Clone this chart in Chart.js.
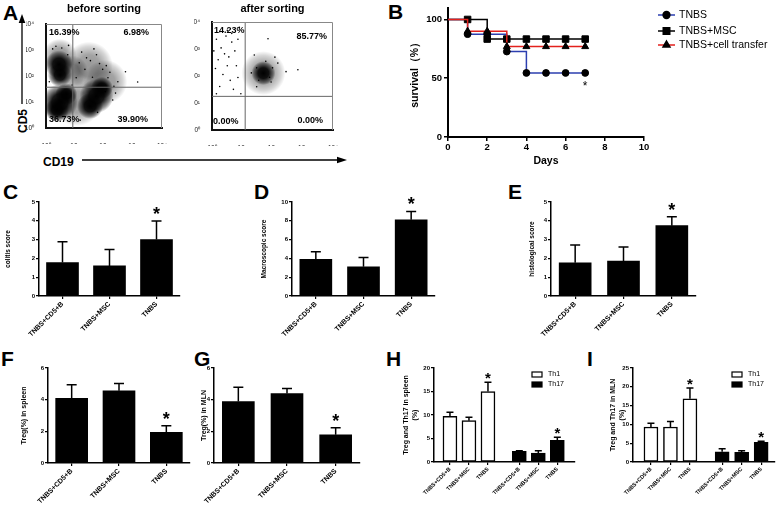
<!DOCTYPE html>
<html>
<head>
<meta charset="utf-8">
<title>TNBS figure</title>
<script src="https://cdn.jsdelivr.net/npm/chart.js@4.4.1/dist/chart.umd.min.js"></script>
<style>
  html, body { margin: 0; padding: 0; background: #fff; }
  body { position: relative; width: 778px; height: 505px; overflow: hidden; font-family: Arial, "Liberation Sans", sans-serif; }
  canvas { position: absolute; }
  .txt { position: absolute; font-weight: bold; line-height: 1; white-space: nowrap; color: #000; }
  .letter { font-size: 21px; }
  svg { position: absolute; left: 0; top: 0; }
</style>
</head>
<body>
<div class="txt letter" style="left:3px;top:2px">A</div>
<div class="txt letter" style="left:388px;top:1px">B</div>
<div class="txt letter" style="left:3px;top:181px">C</div>
<div class="txt letter" style="left:254px;top:181px">D</div>
<div class="txt letter" style="left:508px;top:181px">E</div>
<div class="txt letter" style="left:1px;top:348px">F</div>
<div class="txt letter" style="left:194px;top:348px">G</div>
<div class="txt letter" style="left:386px;top:348px">H</div>
<div class="txt letter" style="left:587px;top:348px">I</div>
<div class="txt" style="left:43px;top:156px;font-size:12px">CD19</div>
<div class="txt" style="left:17px;top:133px;font-size:12px;transform:rotate(-90deg);transform-origin:left top">CD5</div>
<svg width="778" height="505">
  <line x1="22" y1="104" x2="22" y2="22" stroke="#000" stroke-width="1.3"/>
  <polygon points="22,14 18.7,23 25.3,23" fill="#000"/>
  <line x1="82" y1="160" x2="338" y2="160" stroke="#000" stroke-width="1.3"/>
  <polygon points="347,160 337,156.7 337,163.3" fill="#000"/>
</svg>
<script>
// ---------- data ----------
var groups = ['TNBS+CD5+B', 'TNBS+MSC', 'TNBS'];
var sig = [false, false, true];

var colitisMean = [1.78, 1.6, 3.0];
var colitisTop = [2.89, 2.48, 3.99];
var macroMean = [3.9, 3.1, 8.1];
var macroTop = [4.7, 4.1, 9.0];
var histoMean = [1.77, 1.86, 3.74];
var histoTop = [2.71, 2.6, 4.22];
var tregSpleenMean = [4.09, 4.56, 1.93];
var tregSpleenTop = [4.94, 5.02, 2.35];
var tregMlnMean = [3.88, 4.39, 1.78];
var tregMlnTop = [4.79, 4.7, 2.22];

var th1SpleenMean = [9.7, 8.8, 15.0];
var th1SpleenTop = [10.6, 9.5, 16.95];
var th17SpleenMean = [2.27, 1.9, 4.6];
var th17SpleenTop = [2.4, 2.4, 5.25];
var th1MlnMean = [9.3, 9.3, 16.8];
var th1MlnTop = [10.3, 10.8, 19.7];
var th17MlnMean = [2.7, 2.6, 5.2];
var th17MlnTop = [3.5, 3.0, 5.5];

var days = [0, 1, 2, 3, 4, 5, 6, 7];
var survTNBS = [100, 87.5, 87.5, 72.7, 54.5, 54.5, 54.5, 54.5];
var survMSC = [100, 100, 83.3, 83.3, 83.3, 83.3, 83.3, 83.3];
var survCell = [100, 90, 90, 76.9, 76.9, 76.9, 76.9, 76.9];

// flow plots: CD19 (x) vs CD5 (y)
var cytoTicks = [1, 10, 100, 1000, 10000];
var beforeGate = [8.4, 37];
var afterGate = [12.5, 17.6];
var beforePct = ['16.39%', '6.98%', '36.73%', '39.90%'];
var afterPct = ['14.23%', '85.77%', '0.00%', '0.00%'];
var beforeClusters = [
  {x: 2.8, y: 280, r: 14}, {x: 3.0, y: 110, r: 12}, {x: 3.0, y: 10, r: 18},
  {x: 2.4, y: 5, r: 12}, {x: 5, y: 20, r: 11}, {x: 55, y: 17, r: 17},
  {x: 33, y: 7, r: 13}, {x: 85, y: 35, r: 11}
];
var beforeHaze = [
  {x: 3, y: 600, r: 17}, {x: 30, y: 250, r: 24}, {x: 110, y: 60, r: 22},
  {x: 12, y: 10, r: 24}, {x: 8, y: 150, r: 16}
];
var beforeDots = [
  [550, 145], [1450, 59], [17, 830], [34, 390], [55, 660], [90, 180], [22, 180], [11, 86],
  [137, 86], [220, 40], [5.6, 660], [1.7, 1100], [3.5, 1200], [25, 500], [70, 300], [45, 1100],
  [120, 250], [14, 320], [160, 140], [40, 90], [6, 1500], [2.2, 1400], [300, 60], [110, 25],
  [200, 12], [8, 45], [1.3, 60], [60, 4], [250, 22], [15, 2]
];
var afterClusters = [{x: 50, y: 128, r: 12}];
var afterHaze = [{x: 50, y: 128, r: 22}];
var afterDots = [
  [1.4, 2300], [2.0, 1100], [2.9, 3000], [4.5, 1800], [2.6, 660], [1.6, 400], [3.6, 510],
  [5.7, 850], [7.2, 2300], [1.3, 190], [2.3, 114], [4.0, 69], [7.2, 88], [1.8, 41], [5.1, 32],
  [9.0, 22], [1.4, 22], [3.2, 240], [6.4, 240], [1.15, 850], [8.0, 6300], [3.2, 4900],
  [1.8, 4400], [4.5, 3800], [280, 145], [690, 170], [71, 2400], [120, 500], [25, 600],
  [30, 40], [90, 60], [150, 300], [30, 200], [80, 90], [35, 70], [100, 200], [60, 350], [20, 130]
];

// ---------- setup ----------
var FONT = 'Arial, "Liberation Sans", sans-serif';
Chart.defaults.animation = false;
Chart.defaults.font.family = FONT;
Chart.defaults.color = '#000';
Chart.defaults.plugins.legend.display = false;
Chart.defaults.plugins.tooltip.enabled = false;
Chart.defaults.events = [];

function place(id, box) {
  var c = document.createElement('canvas');
  c.id = id;
  c.width = box[2]; c.height = box[3];
  c.style.left = box[0] + 'px'; c.style.top = box[1] + 'px';
  c.style.width = box[2] + 'px'; c.style.height = box[3] + 'px';
  document.body.appendChild(c);
  return c;
}

function pad(box, area) {
  return { left: 0, top: area[1] - box[1], right: box[0] + box[2] - area[2], bottom: 0 };
}

// ---------- flow cytometry ----------
var supers = ['\u2070', '\u00b9', '\u00b2', '\u00b3', '\u2074'];
function logLabel(v) { return '10' + supers[Math.round(Math.log10(v))]; }
function logTicks(s) { s.ticks = cytoTicks.map(function(v) { return {value: v}; }); }

function blob(alpha) {
  return function(c) {
    if (c.type !== 'data' || !c.chart.chartArea) return 'rgba(0,0,0,' + alpha + ')';
    var ch = c.chart;
    var x = ch.scales.x.getPixelForValue(c.raw.x), y = ch.scales.y.getPixelForValue(c.raw.y);
    var g = ch.ctx.createRadialGradient(x, y, 0, x, y, c.raw.r);
    g.addColorStop(0, 'rgba(0,0,0,' + alpha + ')');
    g.addColorStop(0.45, 'rgba(0,0,0,' + (alpha * 0.9) + ')');
    g.addColorStop(0.8, 'rgba(0,0,0,' + (alpha * 0.4) + ')');
    g.addColorStop(1, 'rgba(0,0,0,0)');
    return g;
  };
}

var flowPlugin = {
  id: 'flow',
  afterDatasetsDraw: function(chart, args, o) {
    var ctx = chart.ctx, a = chart.chartArea;
    var gx = chart.scales.x.getPixelForValue(o.gate[0]);
    var gy = chart.scales.y.getPixelForValue(o.gate[1]);
    ctx.save();
    ctx.strokeStyle = '#666'; ctx.lineWidth = 1;
    ctx.beginPath();
    ctx.moveTo(gx, a.top); ctx.lineTo(gx, a.bottom);
    ctx.moveTo(a.left, gy); ctx.lineTo(a.right, gy);
    ctx.stroke();
    ctx.strokeStyle = '#888';
    ctx.beginPath();
    ctx.moveTo(a.left, a.top + 0.5); ctx.lineTo(a.right - 0.5, a.top + 0.5); ctx.lineTo(a.right - 0.5, a.bottom);
    ctx.stroke();
    ctx.fillStyle = '#000';
    ctx.font = 'bold 9px ' + FONT;
    ctx.textBaseline = 'middle';
    var c = o.corners;
    ctx.textAlign = 'left';  ctx.fillText(o.pct[0], a.left + c[0][0], a.top + c[0][1]);
    ctx.textAlign = 'right'; ctx.fillText(o.pct[1], a.right + c[1][0], a.top + c[1][1]);
    ctx.textAlign = 'left';  ctx.fillText(o.pct[2], a.left + c[2][0], a.bottom + c[2][1]);
    ctx.textAlign = 'right'; ctx.fillText(o.pct[3], a.right + c[3][0], a.bottom + c[3][1]);
    ctx.font = 'bold 11px ' + FONT;
    ctx.textAlign = 'center';
    ctx.fillText(o.title, (a.left + a.right) / 2, 9);
    ctx.restore();
  }
};

function flowChart(id, box, area, clusters, haze, dots, gate, pct, title, corners) {
  return new Chart(place(id, box), {
    type: 'bubble',
    data: {
      datasets: [
        { data: haze, backgroundColor: blob(0.4), borderWidth: 0, order: 3 },
        { data: clusters, backgroundColor: blob(1), borderWidth: 0, order: 2 },
        { type: 'scatter', data: dots.map(function(d) { return {x: d[0], y: d[1]}; }),
          pointRadius: 0.8, pointBackgroundColor: '#000', pointBorderWidth: 0, order: 1 }
      ]
    },
    options: {
      responsive: false,
      layout: { padding: pad(box, area) },
      scales: {
        x: {
          type: 'logarithmic', min: 1, max: 10000, afterBuildTicks: logTicks,
          afterFit: function(s) { s.height = box[1] + box[3] - area[3]; },
          grid: { display: false }, border: { color: '#111', width: 2 },
          ticks: { callback: logLabel, font: { size: 6.5 }, color: '#222', padding: 6, maxRotation: 0, autoSkip: false }
        },
        y: {
          type: 'logarithmic', min: 1, max: 10000, afterBuildTicks: logTicks,
          afterFit: function(s) { s.width = area[0] - box[0]; },
          grid: { display: false }, border: { color: '#111', width: 2 },
          ticks: { callback: logLabel, font: { size: 6.5 }, color: '#222', padding: 4, autoSkip: false }
        }
      },
      plugins: { flow: { gate: gate, pct: pct, title: title, corners: corners } }
    },
    plugins: [flowPlugin]
  });
}

flowChart('flowBefore', [22, 0, 164, 152], [42, 14, 176, 136], beforeClusters, beforeHaze, beforeDots,
  beforeGate, beforePct, 'before sorting', [[3, 9], [-13, 9], [3, -8], [-14, -8]]);
flowChart('flowAfter', [190, 0, 165, 152], [208, 14, 343, 136], afterClusters, afterHaze, afterDots,
  afterGate, afterPct, 'after sorting', [[2, 9], [-6, 15], [1, -8], [-10, -9]]);

// ---------- survival ----------
var kmPlugin = {
  id: 'km',
  afterDraw: function(chart, args, o) {
    var ctx = chart.ctx;
    ctx.save();
    chart.data.datasets.forEach(function(ds, i) {
      var y = o.legendY[i];
      ctx.strokeStyle = ds.borderColor; ctx.lineWidth = 1.5;
      ctx.beginPath(); ctx.moveTo(o.legendX, y); ctx.lineTo(o.legendX + 17, y); ctx.stroke();
      ctx.fillStyle = '#000'; ctx.strokeStyle = '#000';
      Chart.helpers.drawPoint(ctx, { pointStyle: ds.pointStyle, radius: ds.legendR, borderWidth: 1 }, o.legendX + 8.5, y);
      ctx.font = '10.5px ' + FONT; ctx.textAlign = 'left'; ctx.textBaseline = 'middle';
      ctx.fillText(ds.label, o.legendX + 21, y);
    });
    var meta = chart.getDatasetMeta(0), last = meta.data[meta.data.length - 1];
    ctx.font = '12px ' + FONT; ctx.textAlign = 'center'; ctx.textBaseline = 'alphabetic';
    ctx.fillText('*', last.x, last.y + 17);
    ctx.restore();
  }
};

(function() {
  var box = [400, 0, 378, 172], area = [448, 6, 644, 137];
  var markR = [0, 3.5, 3.5, 3.5, 3.5, 3.5, 3.5, 3.5];
  function series(label, vals, color, style, r, order) {
    return {
      label: label, data: days.map(function(d, i) { return {x: d, y: vals[i]}; }),
      borderColor: color, borderWidth: 1.5, stepped: true, fill: false,
      pointStyle: style, pointRadius: markR.map(function(v) { return v ? r : 0; }),
      pointBackgroundColor: '#000', pointBorderColor: '#000', pointBorderWidth: 1,
      legendR: r, order: order
    };
  }
  new Chart(place('km', box), {
    type: 'line',
    data: {
      datasets: [
        series('TNBS', survTNBS, '#2c3fb0', 'circle', 3.4, 3),
        series('TNBS+MSC', survMSC, '#000', 'rect', 4.6, 2),
        series('TNBS+cell transfer', survCell, '#e3211c', 'triangle', 4, 1)
      ]
    },
    options: {
      responsive: false,
      layout: { padding: pad(box, area) },
      scales: {
        x: {
          type: 'linear', min: 0, max: 10,
          afterFit: function(s) { s.height = box[1] + box[3] - area[3]; },
          border: { color: '#000', width: 2 },
          grid: { drawOnChartArea: false, color: '#000', tickLength: 4, lineWidth: 1.5 },
          ticks: { stepSize: 2, font: { size: 9.5, weight: 'bold' }, padding: 1 },
          title: { display: true, text: 'Days', font: { size: 10.5, weight: 'bold' }, padding: { top: 0, bottom: 5 } }
        },
        y: {
          min: 0, max: 110,
          afterBuildTicks: function(s) { s.ticks = [0, 50, 100].map(function(v) { return {value: v}; }); },
          afterFit: function(s) { s.width = area[0] - box[0]; },
          border: { color: '#000', width: 2 },
          grid: { drawOnChartArea: false, color: '#000', tickLength: 4, lineWidth: 1.5 },
          ticks: { font: { size: 9.5, weight: 'bold' }, padding: 2 },
          title: { display: true, text: 'survival\uff08%\uff09', font: { size: 10.5, weight: 'bold' }, padding: { top: 9, bottom: 0 } }
        }
      },
      plugins: { km: { legendX: 258, legendY: [15, 31, 45] } }
    },
    plugins: [kmPlugin]
  });
})();

// ---------- bar panels ----------
var errPlugin = {
  id: 'err',
  afterDatasetsDraw: function(chart, args, o) {
    var ctx = chart.ctx, ys = chart.scales.y;
    ctx.save();
    chart.data.datasets.forEach(function(ds, di) {
      chart.getDatasetMeta(di).data.forEach(function(bar, i) {
        var top = ys.getPixelForValue(ds.errTop[i]);
        ctx.strokeStyle = '#000'; ctx.lineWidth = 1.5;
        ctx.beginPath();
        ctx.moveTo(bar.x, bar.y); ctx.lineTo(bar.x, top);
        ctx.moveTo(bar.x - o.cap, top); ctx.lineTo(bar.x + o.cap, top);
        ctx.stroke();
        if (ds.sig[i]) {
          ctx.fillStyle = '#000';
          ctx.font = 'bold ' + o.star + 'px ' + FONT;
          ctx.textAlign = 'center'; ctx.textBaseline = 'alphabetic';
          ctx.fillText('*', bar.x, top + o.starDy);
        }
      });
    });
    if (o.legend) {
      var a = chart.chartArea, lx = a.right + o.legend[0], ly = a.top + o.legend[1];
      chart.data.datasets.forEach(function(ds, di) {
        var y = ly + di * 10;
        ctx.fillStyle = ds.backgroundColor; ctx.fillRect(lx, y, 10, 5);
        ctx.strokeStyle = '#000'; ctx.lineWidth = 1.2; ctx.strokeRect(lx, y, 10, 5);
        ctx.fillStyle = '#000'; ctx.font = '7px ' + FONT;
        ctx.textAlign = 'left'; ctx.textBaseline = 'middle';
        ctx.fillText(ds.label, lx + 16, y + 2.5);
      });
    }
    ctx.restore();
  }
};

function axisY(box, area, max, step, title, tsize) {
  return {
    min: 0, max: max,
    afterFit: function(s) { s.width = area[0] - box[0]; },
    border: { color: '#000', width: 1.5 },
    grid: { drawOnChartArea: false, color: '#000', tickLength: 3, lineWidth: 1.2 },
    ticks: { stepSize: step, font: { size: 6, weight: 'bold' }, padding: 1 },
    title: { display: true, text: title, font: { size: tsize, weight: 'bold' }, padding: { top: 2, bottom: 0 } }
  };
}

function barChart(id, box, area, mean, top, max, step, title, tsize) {
  return new Chart(place(id, box), {
    type: 'bar',
    data: {
      labels: groups,
      datasets: [{ data: mean, errTop: top, sig: sig, backgroundColor: '#000', barThickness: 32 }]
    },
    options: {
      responsive: false,
      layout: { padding: pad(box, area) },
      scales: {
        x: {
          afterFit: function(s) { s.height = box[1] + box[3] - area[3]; },
          border: { color: '#000', width: 1.5 },
          grid: { drawOnChartArea: false, offset: false, color: '#000', tickLength: 3, lineWidth: 1.2 },
          ticks: { minRotation: 45, maxRotation: 45, autoSkip: false, font: { size: 7, weight: 'bold' }, padding: 1 }
        },
        y: axisY(box, area, max, step, title, tsize)
      },
      plugins: { err: { cap: 5, star: 18, starDy: -1 } }
    },
    plugins: [errPlugin]
  });
}

barChart('colitis', [2, 190, 184, 150], [39, 202, 180, 296], colitisMean, colitisTop, 5, 1, 'colitis score', 6.5);
barChart('macro', [258, 190, 183, 150], [292, 202, 435, 296], macroMean, macroTop, 10, 2, 'Macroscopic score', 6.5);
barChart('histo', [526, 190, 176, 150], [551, 202, 696, 296], histoMean, histoTop, 5, 1, 'histological score', 6.5);
barChart('tregSpleen', [18, 356, 178, 149], [48, 368, 190, 463], tregSpleenMean, tregSpleenTop, 6, 2, 'Treg(%) in spleen', 7);
barChart('tregMln', [198, 356, 168, 149], [214, 368, 360, 463], tregMlnMean, tregMlnTop, 6, 2, 'Treg(%) in MLN', 7);

// grouped Th1 / Th17 panels: slots 1..3 for Th1, then a gap before Th17
var slotGap = 3.65;
function thChart(id, box, area, xRange, th1, th1Top, th17, th17Top, max, title) {
  var slots = [0, 1, 2].map(function(i) { return i + 1; });
  var slots17 = slots.map(function(v) { return v + slotGap; });
  var labels = groups.concat(groups);
  function pts(xs, vals) { return vals.map(function(v, i) { return {x: xs[i], y: v}; }); }
  return new Chart(place(id, box), {
    type: 'bar',
    data: {
      datasets: [
        { label: 'Th1', data: pts(slots, th1), errTop: th1Top, sig: sig, backgroundColor: '#fff',
          borderColor: '#000', borderWidth: 1.5, borderSkipped: false, barThickness: 14, grouped: false },
        { label: 'Th17', data: pts(slots17, th17), errTop: th17Top, sig: sig, backgroundColor: '#000',
          borderColor: '#000', borderWidth: 1, barThickness: 14, grouped: false }
      ]
    },
    options: {
      responsive: false,
      layout: { padding: pad(box, area) },
      scales: {
        x: {
          type: 'linear', min: xRange[0], max: xRange[1], offset: false,
          afterBuildTicks: function(s) { s.ticks = slots.concat(slots17).map(function(v) { return {value: v}; }); },
          afterFit: function(s) { s.height = box[1] + box[3] - area[3]; },
          border: { color: '#000', width: 1.5 },
          grid: { drawOnChartArea: false, offset: false, color: '#000', tickLength: 3, lineWidth: 1.2 },
          ticks: { minRotation: 45, maxRotation: 45, autoSkip: false, font: { size: 5.5, weight: 'bold' }, padding: 1,
                   callback: function(v, i) { return labels[i]; } }
        },
        y: axisY(box, area, max, 5, title, 7)
      },
      plugins: { err: { cap: 3.5, star: 15, starDy: 1, legend: [-43, 4] } }
    },
    plugins: [errPlugin]
  });
}

thChart('thSpleen', [400, 356, 180, 149], [434, 368, 575, 462], [0.16, 7.58],
  th1SpleenMean, th1SpleenTop, th17SpleenMean, th17SpleenTop, 20, ['Treg and Th17 in spleen', '(%)']);
thChart('thMln', [607, 356, 171, 149], [633, 368, 775, 462], [0.08, 7.36],
  th1MlnMean, th1MlnTop, th17MlnMean, th17MlnTop, 25, ['Treg and Th17 in MLN', '(%)']);
</script>
</body>
</html>
